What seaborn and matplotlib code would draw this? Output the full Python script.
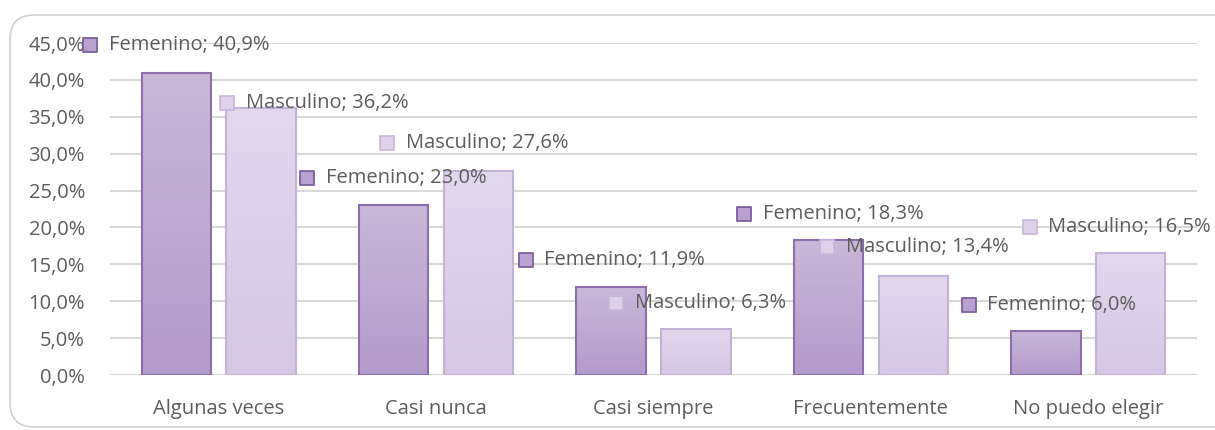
import matplotlib
matplotlib.use("Agg")
import matplotlib.pyplot as plt
import seaborn as sns
import pandas as pd
import numpy as np
from matplotlib.patches import FancyBboxPatch
from matplotlib.colors import LinearSegmentedColormap
from matplotlib.ticker import FuncFormatter

categorias = ["Algunas veces", "Casi nunca", "Casi siempre", "Frecuentemente", "No puedo elegir"]
femenino = [40.9, 23.0, 11.9, 18.3, 6.0]
masculino = [36.2, 27.6, 6.3, 13.4, 16.5]
series = ["Femenino", "Masculino"]

# label offsets from the top centre of each bar (x in category units, y in %)
fem_dx = [-0.397, -0.397, -0.393, -0.388, -0.356]
fem_dy = [3.8, 3.7, 3.7, 3.5, 3.5]
mas_dx = [-0.156, -0.419, -0.368, -0.395, -0.465]
mas_dy = [0.7, 3.8, 3.5, 3.9, 3.6]

df = pd.DataFrame({
    "categoria": categorias * 2,
    "valor": femenino + masculino,
    "sexo": ["Femenino"] * len(categorias) + ["Masculino"] * len(categorias),
})

sns.set_style("white")
plt.rcParams["font.family"] = ["Open Sans", "DejaVu Sans"]

gris = "#5c5c5c"
fill = {"Femenino": "#bea9d3", "Masculino": "#dbd0e8"}
grad = {"Femenino": ("#b39bcb", "#c8b8d9"), "Masculino": ("#d5c7e5", "#e2d8ed")}
edge = {"Femenino": "#8b6fa8", "Masculino": "#c3b2d7"}
mk_fill = {"Femenino": "#b8a1ce", "Masculino": "#ddd2ea"}
mk_edge = {"Femenino": "#7b619d", "Masculino": "#c8b9da"}

fig = plt.figure(figsize=(12.15, 4.3), dpi=100)
ax = fig.add_axes([110 / 1215, 1 - 375 / 430, 1087 / 1215, 332 / 430])

# rounded outer frame
frame = FancyBboxPatch((10 / 1215, 3 / 430), 1.02, 412 / 430,
                       boxstyle="round,pad=0,rounding_size=0.02",
                       transform=fig.transFigure, facecolor="none",
                       edgecolor="#d0d0d0", linewidth=1.2, mutation_aspect=1215 / 430,
                       clip_on=False, zorder=0)
fig.patches.append(frame)

sns.barplot(data=df, x="categoria", y="valor", hue="sexo", hue_order=series,
            palette=fill, width=0.78, gap=0.18, legend=False, ax=ax, zorder=3)

ax.set_ylim(0, 45)
ax.set_xlim(-0.5, 4.5)

# vertical gradient inside each bar, outline on top
ramp = np.linspace(0, 1, 64).reshape(-1, 1)
for cont, s in zip(ax.containers, series):
    cmap = LinearSegmentedColormap.from_list(s, grad[s])
    for bar in cont:
        x0, w, h = bar.get_x(), bar.get_width(), bar.get_height()
        im = ax.imshow(ramp, cmap=cmap, origin="lower", aspect="auto",
                       extent=(x0, x0 + w, 0, h), zorder=3.5)
        im.set_clip_path(bar)
        bar.set_facecolor("none")
        bar.set_edgecolor(edge[s])
        bar.set_linewidth(1.5)
        bar.set_zorder(4)

ax.set_ylim(0, 45)
ax.set_xlim(-0.5, 4.5)
ax.set_yticks(range(0, 50, 5))
ax.yaxis.set_major_formatter(FuncFormatter(lambda v, p: f"{v:.1f}%".replace(".", ",")))
ax.grid(axis="y", color="#d9d9d9", linewidth=1.5, zorder=0)
ax.set_axisbelow(True)
for sp in ax.spines.values():
    sp.set_visible(False)
ax.tick_params(axis="both", length=0, colors=gris, labelsize=14.5)
ax.tick_params(axis="y", pad=18)
ax.tick_params(axis="x", pad=17)
ax.set_xlabel("")
ax.set_ylabel("")

offsets = {"Femenino": (fem_dx, fem_dy), "Masculino": (mas_dx, mas_dy)}
for cont, s in zip(ax.containers, series):
    dxs, dys = offsets[s]
    for bar, dx, dy in zip(cont, dxs, dys):
        xc = bar.get_x() + bar.get_width() / 2 + dx
        yc = bar.get_height() + dy
        ax.scatter([xc], [yc], marker="s", s=90, color=mk_fill[s],
                   edgecolor=mk_edge[s], linewidth=1.3, zorder=5, clip_on=False)
        txt = f"{s}; {bar.get_height():.1f}%".replace(".", ",")
        ax.annotate(txt, (xc, yc), xytext=(13.5, 0), textcoords="offset points",
                    va="center", ha="left", color=gris, fontsize=14.5,
                    zorder=6, annotation_clip=False)

fig.savefig("out.png", dpi=100)
